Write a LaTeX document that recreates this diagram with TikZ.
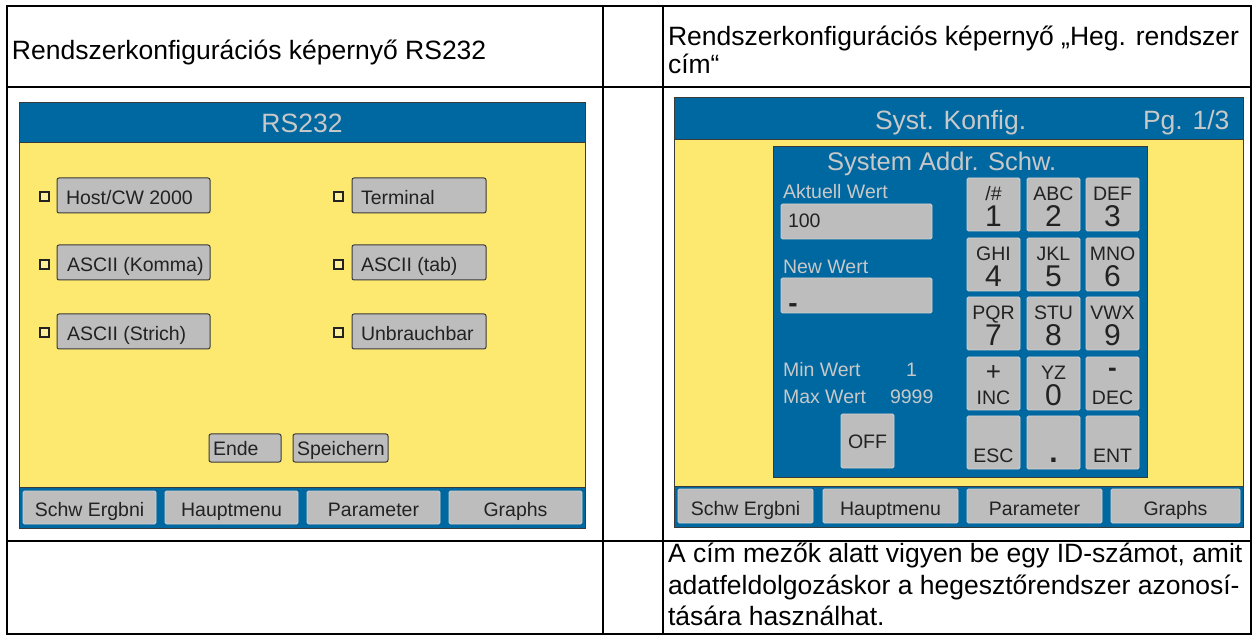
\documentclass[tikz,border=0pt]{standalone}
\usepackage{fontspec}
\setmainfont{Liberation Sans}
\definecolor{scrblue}{HTML}{0068A0}
\definecolor{scryellow}{HTML}{FDE870}
\definecolor{btngray}{HTML}{BDBDBD}
\definecolor{lbl}{HTML}{C8C8C8}
\definecolor{dark}{HTML}{222222}
\definecolor{edge}{HTML}{3A3A3A}
\newcommand{\fs}[1]{\fontsize{#1}{#1}\selectfont}
\newcommand{\boxat}[6]{\node[#1, minimum width=#4pt, minimum height=#5pt] (#2) at (#3) {#6};}
\newcommand{\numkey}[5]{%
  \node[key] (#1) at (#2,#3) {};
  \node[lab, anchor=base] (#1a) at ([yshift=-23pt]#1.north) {#4};
  \node[font=\fs{30}, text=dark, anchor=base] (#1b) at ([yshift=-49pt]#1.north) {#5};}
\tikzset{
  tbl/.style={line width=2.8pt, black},
  scr/.style={rectangle, anchor=north west, fill=scryellow, draw=edge, line width=1pt},
  bar/.style={rectangle, anchor=north west, fill=scrblue, draw=edge, line width=1pt},
  panel/.style={rectangle, anchor=north west, fill=scrblue, draw=edge, line width=1pt},
  btnL/.style={rectangle, rounded corners=2pt, anchor=north west, fill=btngray, draw=edge, line width=1pt},
  flat/.style={rectangle, rounded corners=1.5pt, anchor=north west, fill=btngray, draw=btngray!70!white, line width=0.8pt},
  key/.style={flat, minimum width=53pt, minimum height=53pt},
  chk/.style={rectangle, anchor=north west, draw=dark, line width=2pt, minimum width=8.5pt, minimum height=8.5pt, fill=scryellow!70!white},
  ttl/.style={font=\fs{26.5}, text=lbl},
  lab/.style={font=\fs{19.5}, text=dark},
  glab/.style={font=\fs{19.5}, text=lbl},
  big/.style={font=\fs{26.5}, text=black},
}
\begin{document}
\begin{tikzpicture}[x=1pt,y=-1pt, every node/.append style={inner sep=0pt, outer sep=0pt}]
\useasboundingbox (0,0) rectangle (1254,636);
\fill[white] (0,0) rectangle (1254,636);

% ---- table ----
\draw[tbl] (7,6) rectangle (1251,634);
\draw[tbl] (7,87) -- (1251,87);
\draw[tbl] (7,541) -- (1251,541);
\draw[tbl] (603,6) -- (603,634);
\draw[tbl] (663,6) -- (663,634);

\node[big, anchor=base west] (h1) at (12,59.5) {Rendszerkonfigurációs képernyő RS232};
\node[big, anchor=base west] (h2a) at (668,45.5) {Rendszerkonfigurációs képernyő „Heg. rendszer};
\node[big, anchor=base west] (h2b) at (668,74) {cím“};

\node[big, anchor=base west] (n1) at (668,562.5) {A cím mezők alatt vigyen be egy ID-számot, amit};
\node[big, anchor=base west] (n2) at (668,594) {adatfeldolgozáskor a hegesztőrendszer azonosí-};
\node[big, anchor=base west] (n3) at (668,625.5) {tására használhat.};

% ---- left screen: RS232 ----
\boxat{scr}{s1}{19,103}{566}{425}{}
\boxat{bar}{s1h}{19,103}{566}{40}{}
\node[ttl, anchor=base] (s1t) at (302,133) {RS232};

\boxat{chk}{c1}{39.5,192.5}{9}{9}{}
\boxat{chk}{c2}{39.5,260.5}{9}{9}{}
\boxat{chk}{c3}{39.5,328.5}{9}{9}{}
\boxat{chk}{c4}{333.5,192.5}{9}{9}{}
\boxat{chk}{c5}{333.5,260.5}{9}{9}{}
\boxat{chk}{c6}{333.5,328.5}{9}{9}{}

\boxat{btnL}{b1}{57,178}{153}{35}{}
\boxat{btnL}{b2}{57,245}{153}{35}{}
\boxat{btnL}{b3}{57,314}{153}{35}{}
\boxat{btnL}{b4}{352,178}{134}{35}{}
\boxat{btnL}{b5}{352,245}{134}{35}{}
\boxat{btnL}{b6}{352,314}{134}{35}{}
\node[lab, anchor=base west] (b1t) at (66,205) {Host/CW 2000};
\node[lab, anchor=base west] (b2t) at (67,272) {ASCII (Komma)};
\node[lab, anchor=base west] (b3t) at (67,341) {ASCII (Strich)};
\node[lab, anchor=base west] (b4t) at (361,205) {Terminal};
\node[lab, anchor=base west] (b5t) at (361,272) {ASCII (tab)};
\node[lab, anchor=base west] (b6t) at (361,341) {Unbrauchbar};

\boxat{btnL}{bende}{209,434}{72}{28}{}
\boxat{btnL}{bsp}{293,434}{95}{28}{}
\node[lab, anchor=base west] (bendet) at (213,455) {Ende};
\node[lab, anchor=base west] (bspt) at (297,455) {Speichern};

\boxat{bar}{s1b}{19,487}{566}{41}{}
\boxat{flat}{m1}{23,491}{133}{33}{}
\boxat{flat}{m2}{165,491}{133}{33}{}
\boxat{flat}{m3}{307,491}{133}{33}{}
\boxat{flat}{m4}{449,491}{133}{33}{}
\node[lab, anchor=base] (m1t) at (89.5,516) {Schw Ergbni};
\node[lab, anchor=base] (m2t) at (231.5,516) {Hauptmenu};
\node[lab, anchor=base] (m3t) at (373.5,516) {Parameter};
\node[lab, anchor=base] (m4t) at (515.5,516) {Graphs};

% ---- right screen: system address ----
\boxat{scr}{s2}{674,98}{569}{429}{}
\boxat{bar}{s2h}{674,98}{569}{42}{}
\node[ttl, anchor=base west] (s2t) at (875,129.5) {Syst. Konfig.};
\node[ttl, anchor=base west] (s2p) at (1143,129.5) {Pg. 1/3};

\boxat{panel}{dlg}{773,147}{374}{330}{}
\node[font=\fs{25.5}, text=lbl, anchor=base west] (dlgt) at (827,171) {System Addr. Schw.};
\node[glab, anchor=base west] (akt) at (783,199) {Aktuell Wert};
\boxat{flat}{f1}{781,204}{151}{35}{}
\node[lab, anchor=base west] (f1t) at (788,228) {100};
\node[glab, anchor=base west] (neu) at (783,274) {New Wert};
\boxat{flat}{f2}{781,278}{151}{35}{}
\node[font=\fs{28}\bfseries, text=dark, anchor=center] (cur) at (793,308.5) {-};
\node[glab, anchor=base west] (minl) at (783,377) {Min Wert};
\node[glab, anchor=base west] (minv) at (906,377) {1};
\node[glab, anchor=base west] (maxl) at (783,404) {Max Wert};
\node[glab, anchor=base west] (maxv) at (890,404) {9999};

\numkey{k1}{967}{178}{/\#}{1}
\numkey{k2}{1027}{178}{ABC}{2}
\numkey{k3}{1086}{178}{DEF}{3}
\numkey{k4}{967}{238}{GHI}{4}
\numkey{k5}{1027}{238}{JKL}{5}
\numkey{k6}{1086}{238}{MNO}{6}
\numkey{k7}{967}{297}{PQR}{7}
\numkey{k8}{1027}{297}{STU}{8}
\numkey{k9}{1086}{297}{VWX}{9}

\node[key] (kinc) at (967,357) {};
\node[font=\fs{26}, text=dark, anchor=base] (kinca) at ([yshift=-24pt]kinc.north) {+};
\node[lab, anchor=base] (kincb) at ([yshift=-48pt]kinc.north) {INC};
\numkey{k0}{1027}{357}{YZ}{0}
\node[key] (kdec) at (1086,357) {};
\node[font=\fs{26}\bfseries, text=dark, anchor=base] (kdeca) at ([yshift=-20pt]kdec.north) {-};
\node[lab, anchor=base] (kdecb) at ([yshift=-48pt]kdec.north) {DEC};

\node[key] (kesc) at (967,416) {};
\node[lab, anchor=base] (kesct) at ([yshift=-46pt]kesc.north) {ESC};
\node[key] (kdot) at (1027,416) {};
\node[font=\fs{30}\bfseries, text=dark, anchor=base] (kdott) at ([yshift=-46pt]kdot.north) {.};
\node[key] (kent) at (1086,416) {};
\node[lab, anchor=base] (kentt) at ([yshift=-46pt]kent.north) {ENT};

\boxat{flat}{koff}{841,414}{53}{54}{}
\node[lab, anchor=base] (kofft) at ([yshift=-35pt]koff.north) {OFF};

\boxat{bar}{s2b}{674,486}{569}{41}{}
\boxat{flat}{r1}{678,489}{135}{34}{}
\boxat{flat}{r2}{823,489}{135}{34}{}
\boxat{flat}{r3}{967,489}{135}{34}{}
\boxat{flat}{r4}{1111,489}{129}{34}{}
\node[lab, anchor=base] (r1t) at (745.5,515) {Schw Ergbni};
\node[lab, anchor=base] (r2t) at (890.5,515) {Hauptmenu};
\node[lab, anchor=base] (r3t) at (1034.5,515) {Parameter};
\node[lab, anchor=base] (r4t) at (1175.5,515) {Graphs};
\end{tikzpicture}
\end{document}
